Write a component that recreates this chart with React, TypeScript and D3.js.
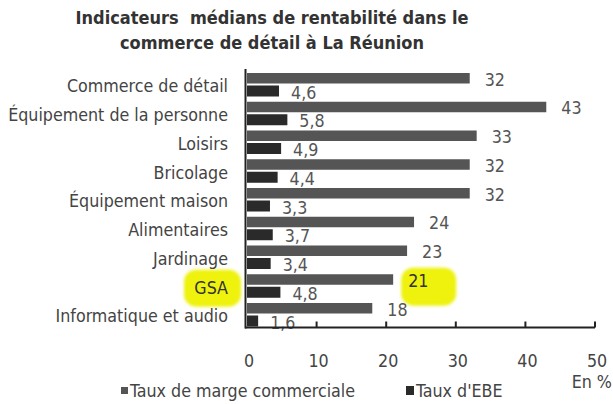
import React from "react";
import * as d3 from "d3";

const categories = [
  "Commerce de détail",
  "Équipement de la personne",
  "Loisirs",
  "Bricolage",
  "Équipement maison",
  "Alimentaires",
  "Jardinage",
  "GSA",
  "Informatique et audio",
];
const margeValues = [32, 43, 33, 32, 32, 24, 23, 21, 18];
const ebeValues = [4.6, 5.8, 4.9, 4.4, 3.3, 3.7, 3.4, 4.8, 1.6];
const xTicks = [0, 10, 20, 30, 40, 50];
const seriesNames = ["Taux de marge commerciale", "Taux d'EBE"];
const highlighted = "GSA";
const titleLines = ["Indicateurs  médians de rentabilité dans le", "commerce de détail à La Réunion"];

const W = 613;
const H = 404;
const FONT = "'DejaVu Sans Condensed', 'DejaVu Sans', Verdana, sans-serif";
const FS = 17.7;

export default function App() {
  const x = d3.scaleLinear().domain([0, 50]).range([247, 595]);
  const y = d3.scaleBand<string>().domain(categories).range([73, 331.75]).paddingInner(0).paddingOuter(0);
  const barH = 11;
  const fmt = (v: number) => String(v).replace(".", ",");
  const axisY = 327.5;
  const hiIdx = categories.indexOf(highlighted);
  const hiY = (y(highlighted) ?? 0) + y.bandwidth() / 2 - 2;
  const common = { fontFamily: FONT, fontStretch: "condensed" as const, fontSize: FS };

  return (
    <svg width={W} height={H} style={{ position: "absolute", left: 0, top: 0, background: "#fff" }}>
      <defs>
        <filter id="soft" x="-20%" y="-20%" width="140%" height="140%">
          <feGaussianBlur stdDeviation="1.5" />
        </filter>
      </defs>
      {/* title */}
      {titleLines.map((t, i) => (
        <text key={i} x={272} y={24 + i * 25} textAnchor="middle" {...common} fontSize={18} fontWeight="bold" fill="#333" style={{ whiteSpace: "pre" }}>
          {t}
        </text>
      ))}
      {/* highlights */}
      {hiIdx >= 0 && (
        <g fill="#eef20f" filter="url(#soft)">
          <rect x={184} y={hiY - 17} width={57} height={37} rx={12} />
          <rect x={x(margeValues[hiIdx]) + 8} y={hiY - 19} width={55} height={38} rx={12} />
        </g>
      )}
      {/* bars */}
      {categories.map((c, i) => {
        const y0 = y(c) ?? 0;
        return (
          <g key={c}>
            <rect x={x(0)} y={y0} width={x(margeValues[i]) - x(0)} height={barH - 0.5} fill="#555" />
            <rect x={x(0)} y={y0 + barH + 1.5} width={x(ebeValues[i]) - x(0)} height={barH} fill="#2a2a2a" />
            <text x={x(margeValues[i]) + 15} y={y0 + barH / 2 + 1} dominantBaseline="central" {...common} fill={c === highlighted ? "#333" : "#555"}>
              {fmt(margeValues[i])}
            </text>
            <text x={x(ebeValues[i]) + 12} y={y0 + barH * 1.5 + 3} dominantBaseline="central" {...common} fill="#555">
              {fmt(ebeValues[i])}
            </text>
            <text x={228} y={y0 + y.bandwidth() / 2 - 1} dominantBaseline="central" textAnchor="end" {...common} fill={c === highlighted ? "#333" : "#444"}>
              {c}
            </text>
          </g>
        );
      })}
      {/* axes */}
      <line x1={245.5} x2={245.5} y1={69} y2={axisY + 1} stroke="#222" strokeWidth={2} />
      <line x1={245} x2={x(50)} y1={axisY} y2={axisY} stroke="#222" strokeWidth={2} />
      {xTicks.slice(1).map((t) => (
        <line key={t} x1={x(t)} x2={x(t)} y1={axisY} y2={axisY - 6} stroke="#222" strokeWidth={2} />
      ))}
      {xTicks.map((t) => (
        <text key={t} x={x(t) + 2} y={361} dominantBaseline="central" textAnchor="middle" {...common} fill="#444">
          {t}
        </text>
      ))}
      <text x={612} y={382} dominantBaseline="central" textAnchor="end" {...common} fill="#444">
        En %
      </text>
      {/* legend */}
      <rect x={121} y={387} width={7} height={7} fill="#555" />
      <text x={130} y={391} dominantBaseline="central" {...common} fill="#444">
        {seriesNames[0]}
      </text>
      <rect x={406} y={386} width={8} height={9} fill="#2a2a2a" />
      <text x={416} y={391} dominantBaseline="central" {...common} fill="#444">
        {seriesNames[1]}
      </text>
    </svg>
  );
}
